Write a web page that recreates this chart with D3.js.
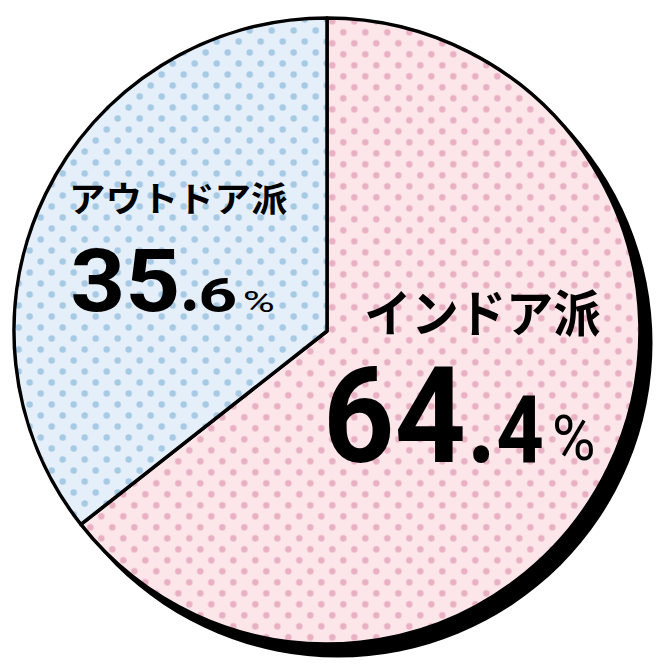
<!DOCTYPE html>
<html>
<head>
<meta charset="utf-8">
<script src="https://cdn.jsdelivr.net/npm/d3@7"></script>
<style>
  html, body { margin: 0; padding: 0; background: #fff; }
</style>
</head>
<body>
<div id="chart"></div>
<script>
// data
const categories = ["インドア派", "アウトドア派"];
const values = [64.4, 35.6];

// look
const FILL = ["#fce6ea", "#e5effa"];
const DOTS = ["#e8b0c2", "#a6c9e4"];
// dot phase of each pattern (page coords, mod 22)
const DOT_PHASE = [[13.3, 10.3], [7.7, 8.5]];

const width = 664, height = 666;
const cx = 327, cy = 331, r = 313;
const shadow = {dx: 11, dy: 12};

const NUM_FONT = "Roboto";
const JP_FONT = "'Noto Sans CJK JP'";

// ink boxes of each label piece
const LABELS = [
    {
        name: {x0: 367, x1: 600, top: 289, bottom: 337},
        int:  {x0: 328, x1: 463, top: 365, bottom: 463},
        dot:  {x0: 473, x1: 490, top: 445, bottom: 463},
        dec:  {x0: 498, x1: 542, top: 395, bottom: 463},
        pct:  {x0: 555, x1: 593, top: 415, bottom: 461}
    },
    {
        name: {x0: 73, x1: 287, top: 182, bottom: 215},
        int:  {x0: 73, x1: 177, top: 248, bottom: 312},
        dot:  {x0: 184, x1: 196, top: 300, bottom: 312},
        dec:  {x0: 201, x1: 235, top: 277, bottom: 312},
        pct:  {x0: 245, x1: 273, top: 290, bottom: 312}
    }
];

const ctx = document.createElement("canvas").getContext("2d");

// put a string so that its ink fills the given box
function fitText(g, str, family, weight, box) {
    ctx.font = weight + " 100px " + family;
    const m = ctx.measureText(str);
    const inkH = m.actualBoundingBoxAscent + m.actualBoundingBoxDescent;
    const size = 100 * (box.bottom - box.top) / inkH;
    const k = size / 100;
    const inkW = (m.actualBoundingBoxLeft + m.actualBoundingBoxRight) * k;
    const sx = (box.x1 - box.x0) / inkW;
    g.append("text")
        .attr("transform", "translate(" + box.x0 + "," + (box.top + m.actualBoundingBoxAscent * k) + ") scale(" + sx + ",1)")
        .attr("x", m.actualBoundingBoxLeft * k)
        .attr("font-family", family)
        .attr("font-weight", weight)
        .attr("font-size", size)
        .attr("fill", "#000")
        .text(str);
}

function draw() {
    const svg = d3.select("#chart")
        .append("svg")
        .attr("width", width)
        .attr("height", height);

    // dotted patterns
    const defs = svg.append("defs");
    categories.forEach(function (c, i) {
        const p = defs.append("pattern")
            .attr("id", "dots" + i)
            .attr("patternUnits", "userSpaceOnUse")
            .attr("width", 22)
            .attr("height", 22)
            .attr("x", DOT_PHASE[i][0] - 5.5 - cx)
            .attr("y", DOT_PHASE[i][1] - 5.5 - cy);
        p.append("rect").attr("width", 22).attr("height", 22).attr("fill", FILL[i]);
        p.append("circle").attr("cx", 5.5).attr("cy", 5.5).attr("r", 3.2).attr("fill", DOTS[i]);
        p.append("circle").attr("cx", 16.5).attr("cy", 16.5).attr("r", 3.2).attr("fill", DOTS[i]);
    });

    const g = svg.append("g")
        .attr("transform", "translate(" + cx + "," + cy + ")");

    // shadow
    g.append("circle")
        .attr("cx", shadow.dx)
        .attr("cy", shadow.dy)
        .attr("r", r + 1.5)
        .attr("fill", "#000");

    const pie = d3.pie().sort(null).value(d => d);
    const arc = d3.arc().innerRadius(0).outerRadius(r);

    g.selectAll("path.slice")
        .data(pie(values))
        .enter()
        .append("path")
        .attr("class", "slice")
        .attr("d", arc)
        .attr("fill", (d, i) => "url(#dots" + i + ")")
        .attr("stroke", "#000")
        .attr("stroke-width", 3.5)
        .attr("stroke-linejoin", "round");

    // labels
    const lg = svg.append("g");
    categories.forEach(function (c, i) {
        const box = LABELS[i];
        const parts = String(values[i]).split(".");
        fitText(lg, c, JP_FONT, 700, box.name);
        fitText(lg, parts[0], NUM_FONT, 700, box.int);
        fitText(lg, ".", NUM_FONT, 700, box.dot);
        fitText(lg, parts[1], NUM_FONT, 700, box.dec);
        fitText(lg, "%", NUM_FONT, 400, box.pct);
    });
}

if (document.fonts && document.fonts.ready) {
    document.fonts.ready.then(draw);
} else {
    draw();
}
</script>
</body>
</html>
